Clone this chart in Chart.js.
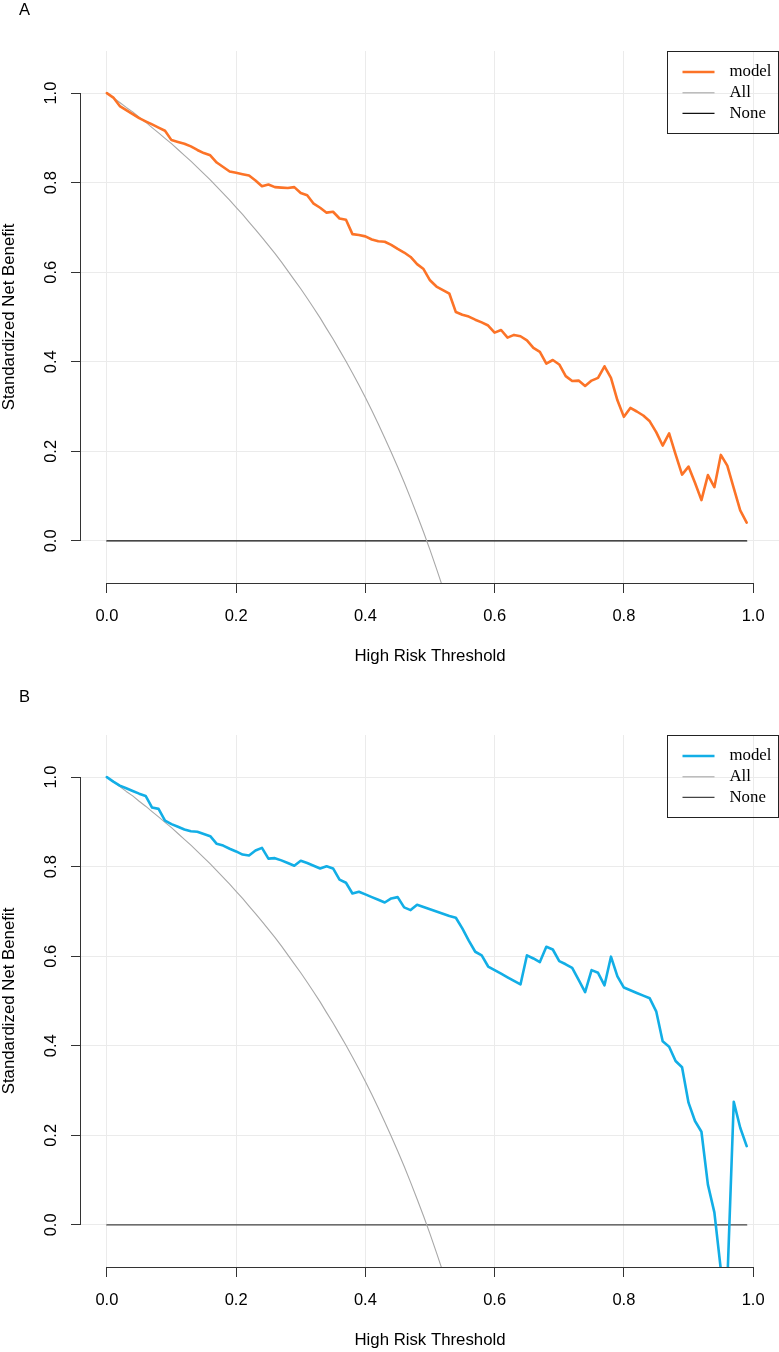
<!DOCTYPE html>
<html>
<head>
<meta charset="utf-8">
<script src="https://cdn.jsdelivr.net/npm/chart.js@4.4.1/dist/chart.umd.min.js"></script>
<style>
  html, body { margin: 0; padding: 0; background: #fff; }
  body { width: 779px; height: 1352px; position: relative; overflow: hidden; font-family: "Liberation Sans", Arial, sans-serif; }
  canvas { position: absolute; left: 0; }
  .tag { position: absolute; font-size: 16.5px; line-height: 1; color: #000; }
</style>
</head>
<body>
<canvas id="chartA" width="779" height="667" style="top:0px"></canvas>
<canvas id="chartB" width="779" height="667" style="top:684px"></canvas>
<div class="tag" style="left:19px; top:1px">A</div>
<div class="tag" style="left:19px; top:688px">B</div>
<script>
// Decision curves - standardized net benefit vs high risk threshold

// thresholds used by every curve
const thresholds = [
  0.00, 0.01, 0.02, 0.03, 0.04, 0.05, 0.06, 0.07, 0.08, 0.09,
  0.10, 0.11, 0.12, 0.13, 0.14, 0.15, 0.16, 0.17, 0.18, 0.19,
  0.20, 0.21, 0.22, 0.23, 0.24, 0.25, 0.26, 0.27, 0.28, 0.29,
  0.30, 0.31, 0.32, 0.33, 0.34, 0.35, 0.36, 0.37, 0.38, 0.39,
  0.40, 0.41, 0.42, 0.43, 0.44, 0.45, 0.46, 0.47, 0.48, 0.49,
  0.50, 0.51, 0.52, 0.53, 0.54, 0.55, 0.56, 0.57, 0.58, 0.59,
  0.60, 0.61, 0.62, 0.63, 0.64, 0.65, 0.66, 0.67, 0.68, 0.69,
  0.70, 0.71, 0.72, 0.73, 0.74, 0.75, 0.76, 0.77, 0.78, 0.79,
  0.80, 0.81, 0.82, 0.83, 0.84, 0.85, 0.86, 0.87, 0.88, 0.89,
  0.90, 0.91, 0.92, 0.93, 0.94, 0.95, 0.96, 0.97, 0.98, 0.99
];

// panel A, model
const modelA = [
  1.000, 0.990, 0.971, 0.962, 0.953, 0.944, 0.937, 0.930, 0.923, 0.916,
  0.895, 0.891, 0.887, 0.881, 0.873, 0.866, 0.861, 0.845, 0.835, 0.825,
  0.822, 0.819, 0.816, 0.805, 0.792, 0.796, 0.790, 0.789, 0.788, 0.790,
  0.777, 0.772, 0.753, 0.744, 0.733, 0.735, 0.720, 0.717, 0.685, 0.683,
  0.680, 0.673, 0.669, 0.668, 0.661, 0.652, 0.644, 0.634, 0.618, 0.607,
  0.582, 0.568, 0.560, 0.552, 0.511, 0.505, 0.501, 0.494, 0.488, 0.481,
  0.465, 0.471, 0.454, 0.460, 0.457, 0.448, 0.431, 0.422, 0.396, 0.404,
  0.394, 0.368, 0.357, 0.358, 0.346, 0.358, 0.364, 0.390, 0.364, 0.314,
  0.277, 0.297, 0.289, 0.280, 0.267, 0.243, 0.213, 0.240, 0.193, 0.148,
  0.166, 0.130, 0.091, 0.147, 0.120, 0.192, 0.168, 0.118, 0.068, 0.041
];

// panel B, model
const modelB = [
  1.000, 0.990, 0.981, 0.975, 0.969, 0.963, 0.958, 0.932, 0.929, 0.903,
  0.895, 0.889, 0.883, 0.879, 0.878, 0.873, 0.868, 0.851, 0.847, 0.840,
  0.834, 0.827, 0.825, 0.836, 0.842, 0.818, 0.819, 0.814, 0.808, 0.802,
  0.813, 0.808, 0.802, 0.796, 0.801, 0.796, 0.771, 0.764, 0.740, 0.744,
  0.738, 0.732, 0.726, 0.720, 0.729, 0.732, 0.709, 0.703, 0.715, 0.710,
  0.705, 0.700, 0.695, 0.690, 0.686, 0.662, 0.635, 0.610, 0.602, 0.577,
  0.569, 0.561, 0.553, 0.545, 0.537, 0.602, 0.595, 0.587, 0.621, 0.615,
  0.589, 0.582, 0.574, 0.547, 0.520, 0.569, 0.563, 0.535, 0.599, 0.555,
  0.530, 0.524, 0.518, 0.512, 0.506, 0.477, 0.410, 0.398, 0.366, 0.352,
  0.273, 0.232, 0.208, 0.090, 0.028, -0.100, -0.130, 0.275, 0.217, 0.176
];

// treat all (same in both panels), from threshold 0.00 until it leaves the plot
const allCurve = [
  1.000, 0.990, 0.979, 0.968, 0.958, 0.946, 0.935, 0.923, 0.911, 0.899,
  0.887, 0.874, 0.861, 0.848, 0.834, 0.820, 0.806, 0.791, 0.776, 0.761,
  0.745, 0.729, 0.712, 0.695, 0.678, 0.660, 0.642, 0.623, 0.603, 0.583,
  0.563, 0.542, 0.520, 0.498, 0.474, 0.451, 0.426, 0.401, 0.375, 0.348,
  0.320, 0.291, 0.261, 0.230, 0.198, 0.165, 0.131, 0.095, 0.058, 0.020,
  -0.020, -0.062, -0.105
];

// treat none
const noneX = [0.00, 0.99];
const noneY = [0, 0];

const xTicks = [0.0, 0.2, 0.4, 0.6, 0.8, 1.0];
const yTicks = [0.0, 0.2, 0.4, 0.6, 0.8, 1.0];

const sans = '"Liberation Sans", Arial, Helvetica, sans-serif';
const serif = '"Liberation Serif", "Times New Roman", serif';

function toPoints(xs, ys) {
    return ys.map((v, i) => ({ x: xs[i], y: v }));
}

// axis lines the R way: only from first to last tick
const rAxes = {
    id: 'rAxes',
    afterDraw(chart) {
        const { ctx, chartArea: a, scales: { x, y } } = chart;
        ctx.save();
        ctx.strokeStyle = '#333';
        ctx.lineWidth = 1;
        ctx.beginPath();
        const by = Math.round(a.bottom) + 0.5;
        ctx.moveTo(x.getPixelForValue(xTicks[0]), by);
        ctx.lineTo(x.getPixelForValue(xTicks[xTicks.length - 1]), by);
        const lx = Math.round(a.left) - 0.5;
        ctx.moveTo(lx, y.getPixelForValue(yTicks[0]));
        ctx.lineTo(lx, y.getPixelForValue(yTicks[yTicks.length - 1]));
        ctx.stroke();
        ctx.restore();
    }
};

// boxed legend in the top right corner of the plot
const boxLegend = {
    id: 'boxLegend',
    afterDraw(chart) {
        const { ctx, chartArea: a } = chart;
        const w = 112, h = 82;
        const left = Math.round(a.right - w) + 0.5, top = Math.round(a.top) + 0.5;
        ctx.save();
        ctx.strokeStyle = '#222';
        ctx.lineWidth = 1;
        ctx.strokeRect(left, top, w - 1, h);
        ctx.font = '16.8px ' + serif;
        ctx.textBaseline = 'middle';
        ctx.textAlign = 'left';
        chart.data.datasets.forEach((ds, i) => {
            const yy = top + 20.5 + i * 20.7;
            ctx.strokeStyle = ds.legendColour || ds.borderColor;
            ctx.lineWidth = ds.legendWidth || ds.borderWidth;
            ctx.beginPath();
            ctx.moveTo(left + 15, yy);
            ctx.lineTo(left + 47, yy);
            ctx.stroke();
            ctx.fillStyle = '#000';
            ctx.fillText(ds.label, left + 62, yy);
        });
        ctx.restore();
    }
};

function dcaChart(id, model, modelColour, noneColour) {
    const line = { pointRadius: 0, tension: 0, borderJoinStyle: 'round', borderCapStyle: 'round', clip: 0 };
    return new Chart(document.getElementById(id), {
        type: 'line',
        data: {
            datasets: [
                { ...line, label: 'model', data: toPoints(thresholds, model), borderColor: modelColour, borderWidth: 2.6 },
                { ...line, label: 'All', data: toPoints(thresholds, allCurve), borderColor: '#a8a8a8', borderWidth: 1.1,
                  legendColour: '#bdbdbd', legendWidth: 1.6 },
                { ...line, label: 'None', data: toPoints(noneX, noneY), borderColor: noneColour, borderWidth: 1.3 }
            ]
        },
        options: {
            responsive: false,
            animation: false,
            events: [],
            layout: { padding: { top: 51, left: 0, right: 0, bottom: 0 } },
            plugins: { legend: { display: false }, tooltip: { enabled: false } },
            scales: {
                x: {
                    type: 'linear', min: -0.04, max: 1.04,
                    afterBuildTicks: s => { s.ticks = xTicks.map(v => ({ value: v })); },
                    afterFit: s => { s.height = 84; },
                    border: { display: false },
                    grid: { color: '#ebebeb', tickColor: '#333', tickLength: 10 },
                    ticks: { padding: 14, maxRotation: 0, autoSkip: false, color: '#000',
                             font: { family: sans, size: 16.5 }, callback: v => v.toFixed(1) },
                    title: { display: true, text: 'High Risk Threshold', color: '#000',
                             font: { family: sans, size: 16.8, lineHeight: 1.2 }, padding: { top: 0, bottom: 1 } }
                },
                y: {
                    type: 'linear', min: -0.094, max: 1.094,
                    afterBuildTicks: s => { s.ticks = yTicks.map(v => ({ value: v })); },
                    afterFit: s => { s.width = 81; },
                    border: { display: false },
                    grid: { color: '#ebebeb', tickColor: '#333', tickLength: 10 },
                    ticks: { minRotation: 90, maxRotation: 90, crossAlign: 'center', padding: 8, color: '#000',
                             font: { family: sans, size: 16.5 }, callback: v => v.toFixed(1) },
                    title: { display: true, text: 'Standardized Net Benefit', color: '#000',
                             font: { family: sans, size: 16.8, lineHeight: 1 }, padding: { top: 0.75, bottom: 0 } }
                }
            }
        },
        plugins: [rAxes, boxLegend]
    });
}

dcaChart('chartA', modelA, '#fc7327', '#111111');
dcaChart('chartB', modelB, '#12aee6', '#444444');
</script>
</body>
</html>
